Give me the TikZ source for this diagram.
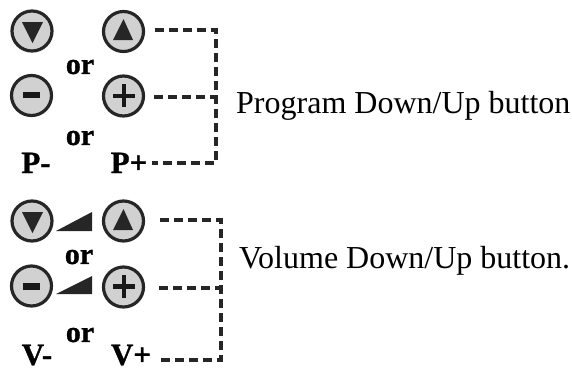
\documentclass[tikz,border=0pt]{standalone}
\usepackage{fontspec}
\setmainfont[BoldFeatures={FakeBold=1.0}]{Liberation Serif}
\begin{document}
\begin{tikzpicture}[x=1pt,y=-1pt,
  btn/.style={circle,draw=black!85,line width=3.2pt,fill=black!18,minimum size=40pt,inner sep=0pt},
  glyph/.style={fill=black!85,draw=none},
  minusbar/.style={line width=6.5pt,draw=black!90},
  plusbar/.style={line width=4.5pt,draw=black!90},
  dotline/.style={draw=black!85,line width=3.6pt,dash pattern=on 8.5pt off 5.5pt},
  orlabel/.style={font=\fontsize{30}{30}\selectfont\bfseries,inner sep=0pt},
  keylabel/.style={font=\fontsize{31}{31}\selectfont\bfseries,inner sep=0pt,anchor=base},
  desc/.style={font=\fontsize{32}{33}\selectfont,inner sep=0pt,anchor=base west}]
\useasboundingbox (0,0) rectangle (572,367);
% upper group
\node[btn] (pd) at (32,31) {};
\node[btn] (pu) at (123.5,31.5) {};
\node[btn] (md) at (31.5,95.5) {};
\node[btn] (mu) at (123.5,96) {};
\fill[glyph] (22,22) -- (43,22) -- (32.5,43) -- cycle;
\fill[glyph] (113,40) -- (133,40) -- (123.5,19) -- cycle;
\draw[minusbar] (23,95) -- (40,95);
\draw[plusbar] (113,96) -- (135,96) (124,84) -- (124,107);
\node[orlabel] (or1) at (80,67) {or};
\node[orlabel] (or2) at (80,138) {or};
\node[keylabel] (pm) at (36,173) {P-};
\node[keylabel] (pp) at (129,173) {P+};
\coordinate (c1) at (216,30);
\coordinate (c2) at (216,163);
\coordinate (c3) at (214,97);
\coordinate (c4) at ([xshift=4pt]pp.east |- c2);
\draw[dotline] (pu.east) ++(10,-1.5) -- (c1) -- (c2) -- (c4);
\draw[dotline] (mu.east) ++(9,1) -- (c3);
\node[desc] (prog) at (236,113) {Program Down/Up button};
% lower group
\node[btn] (vd) at (32,221) {};
\node[btn] (vu) at (123.5,221) {};
\node[btn] (nd) at (31.5,286) {};
\node[btn] (nu) at (123.5,287) {};
\fill[glyph] (22,212) -- (43,212) -- (32.5,233) -- cycle;
\fill[glyph] (113,230) -- (133,230) -- (123.5,209) -- cycle;
\draw[minusbar] (23,286.5) -- (40,286.5);
\draw[plusbar] (113,286.5) -- (135,286.5) (124,275) -- (124,298);
\fill[glyph] (56,231) -- (92,212) -- (92,231) -- cycle;
\fill[glyph] (56,294) -- (92,276) -- (92,294) -- cycle;
\node[orlabel] (or3) at (79,257) {or};
\node[orlabel] (or4) at (80,335) {or};
\node[keylabel] (vm) at (37,365) {V-};
\node[keylabel] (vp) at (131,365) {V+};
\coordinate (d1) at (221,220);
\coordinate (d2) at (221,360);
\coordinate (d3) at (220,288);
\coordinate (d4) at ([xshift=5pt]vp.east |- d2);
\draw[dotline] (vu.east) ++(15,-1) -- (d1) -- (d2) -- (d4);
\draw[dotline] (nu.east) ++(14,1) -- (d3);
\node[desc] (vol) at (239,268) {Volume Down/Up button.};
\end{tikzpicture}
\end{document}
